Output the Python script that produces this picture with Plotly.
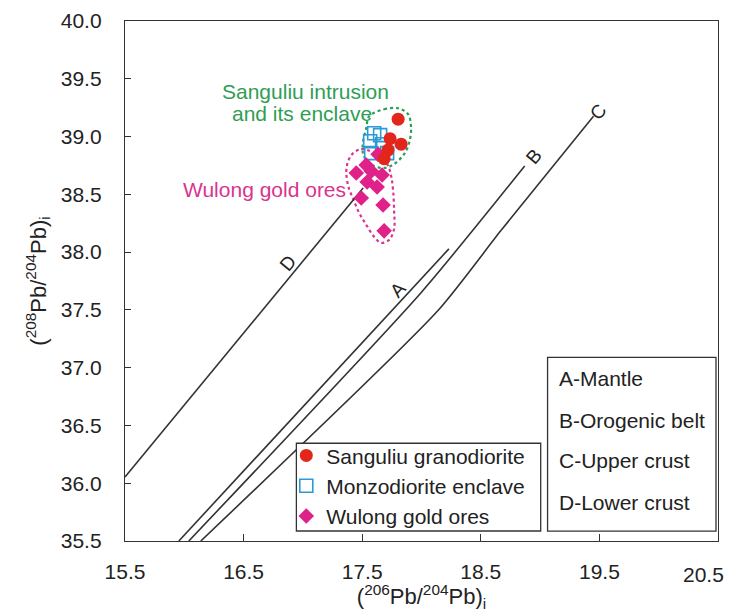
import plotly.graph_objects as go

# ---------------- data ----------------
sang_x = [17.803, 17.735, 17.828, 17.718, 17.685]
sang_y = [39.150, 38.982, 38.934, 38.883, 38.809]

monzo_x = [17.601, 17.651, 17.567, 17.668, 17.576, 17.710]
monzo_y = [39.029, 39.012, 38.960, 38.934, 38.857, 38.857]

wulong_x = [17.634, 17.534, 17.450, 17.576, 17.668, 17.542, 17.626, 17.492, 17.676, 17.685]
wulong_y = [38.846, 38.753, 38.684, 38.701, 38.667, 38.607, 38.563, 38.468, 38.408, 38.184]

# evolution curves
curve_A_x = [15.954, 18.231]
curve_A_y = [35.5, 38.028]
curve_B_x = [16.038, 17.996, 18.870]
curve_B_y = [35.5, 37.649, 38.745]
curve_C_x = [16.139, 18.139, 18.668, 19.450]
curve_C_y = [35.5, 37.494, 38.184, 39.176]
curve_D_x = [15.5, 17.508]
curve_D_y = [36.053, 38.555]

# dotted field outlines
green_field_x = [17.559, 17.685, 17.803, 17.887, 17.912, 17.895, 17.853, 17.769, 17.676, 17.559, 17.508, 17.508, 17.534, 17.559]
green_field_y = [39.176, 39.236, 39.245, 39.193, 39.072, 38.943, 38.848, 38.762, 38.727, 38.770, 38.848, 38.960, 39.072, 39.176]
pink_field_x = [17.424, 17.492, 17.567, 17.643, 17.710, 17.744, 17.761, 17.769, 17.769, 17.727, 17.660, 17.601, 17.534, 17.475, 17.424, 17.382, 17.366, 17.382, 17.424]
pink_field_y = [38.857, 38.891, 38.874, 38.814, 38.762, 38.658, 38.529, 38.356, 38.201, 38.106, 38.080, 38.132, 38.236, 38.339, 38.460, 38.572, 38.701, 38.788, 38.857]

x_ticks = [15.5, 16.5, 17.5, 18.5, 19.5, 20.5]
y_ticks = [35.5, 36.0, 36.5, 37.0, 37.5, 38.0, 38.5, 39.0, 39.5, 40.0]

curve_labels = ["A", "B", "C", "D"]
curve_label_x = [17.80, 18.945, 19.492, 16.878]
curve_label_y = [37.68, 38.831, 39.219, 37.908]
curve_label_angle = [-47, -50, -50, -50]

key_texts = ["A-Mantle", "B-Orogenic belt", "C-Upper crust", "D-Lower crust"]

FONT = "Liberation Sans, Arial, sans-serif"
LINE = "#333333"

fig = go.Figure()

# field outlines
fig.add_trace(go.Scatter(x=green_field_x, y=green_field_y, mode="lines",
                         line=dict(color="#2e9e55", width=2.2, dash="dot", shape="spline", smoothing=1.0),
                         showlegend=False, hoverinfo="skip"))
fig.add_trace(go.Scatter(x=pink_field_x, y=pink_field_y, mode="lines",
                         line=dict(color="#d9348f", width=2.2, dash="dot", shape="spline", smoothing=1.0),
                         showlegend=False, hoverinfo="skip"))

# curves
for cx, cy in [(curve_A_x, curve_A_y), (curve_B_x, curve_B_y), (curve_C_x, curve_C_y), (curve_D_x, curve_D_y)]:
    fig.add_trace(go.Scatter(x=cx, y=cy, mode="lines",
                             line=dict(color=LINE, width=1.6, shape="spline", smoothing=0.6),
                             showlegend=False, hoverinfo="skip"))

# samples
fig.add_trace(go.Scatter(x=monzo_x, y=monzo_y, mode="markers", name="Monzodiorite enclave",
                         legendrank=2, legendgroup="g2",
                         marker=dict(symbol="square-open", size=13, color="#2b9ad8", line=dict(width=1.6, color="#2b9ad8"))))
fig.add_trace(go.Scatter(x=wulong_x, y=wulong_y, mode="markers", name="Wulong gold ores",
                         legendrank=3, legendgroup="g3",
                         marker=dict(symbol="diamond", size=12, color="#df2189", line=dict(width=0))))
fig.add_trace(go.Scatter(x=sang_x, y=sang_y, mode="markers", name="Sanguliu granodiorite",
                         legendrank=1, legendgroup="g1",
                         marker=dict(symbol="circle", size=13, color="#e3261c", line=dict(width=0))))

annotations = []
for t, x, y, a in zip(curve_labels, curve_label_x, curve_label_y, curve_label_angle):
    annotations.append(dict(x=x, y=y, xref="x", yref="y", text=t, showarrow=False, textangle=a,
                            font=dict(family=FONT, size=19, color="#222")))

annotations += [
    dict(x=17.021, y=39.392, xref="x", yref="y", text="Sanguliu intrusion", showarrow=False,
         font=dict(family=FONT, size=21, color="#2e9e55")),
    dict(x=16.996, y=39.202, xref="x", yref="y", text="and its enclave", showarrow=False,
         font=dict(family=FONT, size=21, color="#2e9e55")),
    dict(x=16.676, y=38.546, xref="x", yref="y", text="Wulong gold ores", showarrow=False,
         font=dict(family=FONT, size=21, color="#d9348f")),
]

key_y = [0.3126, 0.2320, 0.1553, 0.0748]
for t, y in zip(key_texts, key_y):
    annotations.append(dict(x=0.728, y=y, xref="paper", yref="paper", text=t, showarrow=False,
                            xanchor="left", yanchor="middle",
                            font=dict(family=FONT, size=21, color="#222")))

# last x tick label, pulled in from the right edge as in the reference
x_ticktext = [f"{v:.1f}" for v in x_ticks[:-1]] + [""]
annotations.append(dict(x=x_ticks[-1], y=0, xref="x", yref="paper", text=f"{x_ticks[-1]:.1f}",
                        showarrow=False, xanchor="right", yanchor="middle", xshift=8, yshift=-33,
                        font=dict(family=FONT, size=21, color="#222")))

shapes = [
    dict(type="rect", xref="paper", yref="paper", x0=0.7126, x1=0.9966, y0=0.019, y1=0.353,
         line=dict(color=LINE, width=1.3), fillcolor="rgba(0,0,0,0)"),
    dict(type="rect", xref="paper", yref="paper", x0=0.289, x1=0.701, y0=0.0192, y1=0.188,
         line=dict(color=LINE, width=1.3), fillcolor="white", layer="above"),
]

fig.update_layout(
    width=716, height=604,
    margin=dict(l=117, r=6, t=13, b=71, autoexpand=False),
    paper_bgcolor="white", plot_bgcolor="white",
    font=dict(family=FONT, size=21, color="#222"),
    annotations=annotations, shapes=shapes,
    legend=dict(x=0.272, y=0.2033, xanchor="left", yanchor="top",
                borderwidth=0, bgcolor="rgba(0,0,0,0)",
                font=dict(family=FONT, size=21, color="#222"),
                tracegroupgap=0, itemwidth=30),
)
fig.update_xaxes(range=[15.5, 20.5], tickvals=x_ticks, ticktext=x_ticktext,
                 ticks="inside", ticklen=7, tickcolor=LINE, showline=True, linecolor=LINE, linewidth=1.3,
                 mirror=True, showgrid=False, zeroline=False, ticklabelstandoff=12,
                 automargin=False, ticklabeloverflow="allow",
                 title=dict(text="(<sup>206</sup>Pb/<sup>204</sup>Pb)<sub>i</sub>", font=dict(size=22), standoff=2))
fig.update_yaxes(range=[35.5, 40.0], tickvals=y_ticks, ticktext=[f"{v:.1f}" for v in y_ticks],
                 ticks="inside", ticklen=6, tickcolor=LINE, showline=True, linecolor=LINE, linewidth=1.3,
                 mirror=True, showgrid=False, zeroline=False, ticklabelstandoff=18,
                 automargin=False, ticklabeloverflow="allow",
                 title=dict(text="(<sup>208</sup>Pb/<sup>204</sup>Pb)<sub>i</sub>", font=dict(size=22), standoff=8))

fig.write_html("out.html")
